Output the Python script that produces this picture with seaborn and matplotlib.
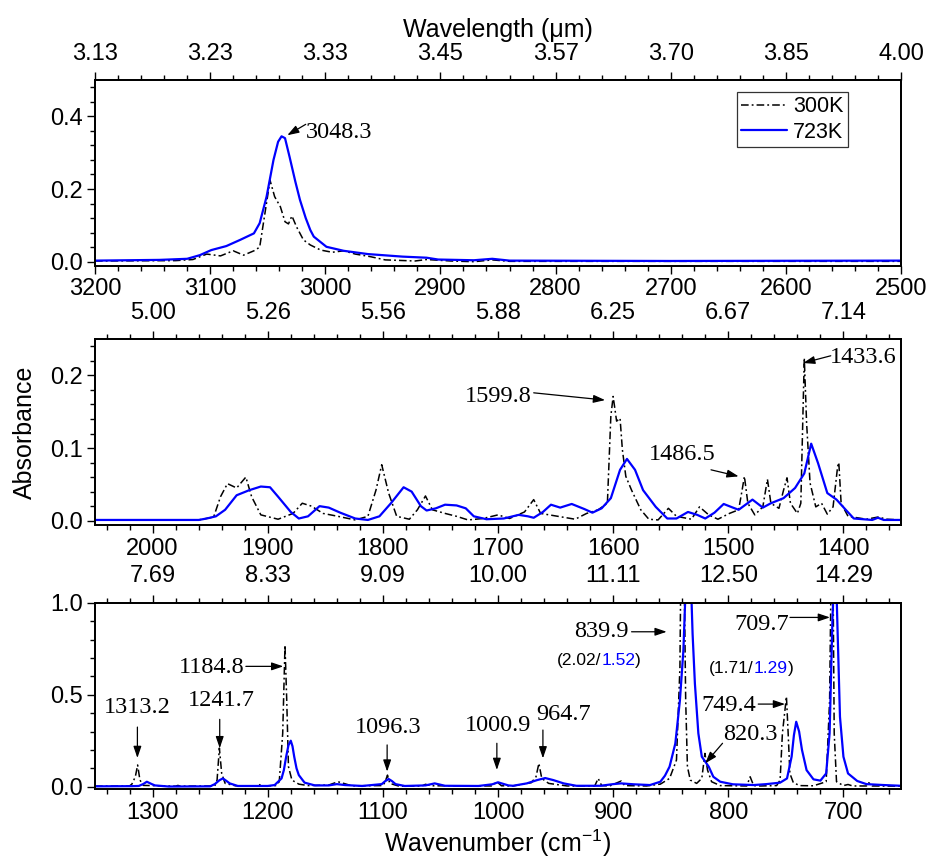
import pandas as pd
import matplotlib
matplotlib.use("Agg")
import matplotlib.pyplot as plt
from matplotlib.ticker import MultipleLocator, FormatStrFormatter
import seaborn as sns

# spectra: (wavenumber cm-1, absorbance)
p1_300K = [(3200, 0.002), (3130, 0.003), (3115, 0.006), (3103, 0.021), (3091, 0.016), (3080, 0.030),
           (3071, 0.018), (3062, 0.030), (3057, 0.040), (3052, 0.142), (3048, 0.224), (3044, 0.179),
           (3039, 0.151), (3035, 0.110), (3032, 0.104), (3029, 0.126), (3025, 0.096), (3019, 0.060),
           (3013, 0.046), (3004, 0.032), (2994, 0.026), (2984, 0.030), (2974, 0.021), (2961, 0.014),
           (2948, 0.005), (2922, 0.002), (2912, 0.006), (2891, 0.002), (2871, 0.000), (2855, 0.005),
           (2840, 0.001), (2500, 0.001)]
p1_723K = [(3200, 0.003), (3144, 0.005), (3120, 0.008), (3109, 0.018), (3099, 0.032), (3086, 0.043),
           (3074, 0.060), (3062, 0.078), (3057, 0.106), (3051, 0.179), (3045, 0.280), (3041, 0.330),
           (3038, 0.345), (3035, 0.340), (3031, 0.288), (3026, 0.220), (3022, 0.170), (3017, 0.120),
           (3013, 0.087), (3010, 0.069), (2999, 0.041), (2984, 0.030), (2963, 0.021), (2933, 0.014),
           (2912, 0.011), (2902, 0.006), (2871, 0.004), (2855, 0.008), (2840, 0.003), (2700, 0.002),
           (2500, 0.003)]

p2_300K = [(2050, 0.001), (1960, 0.001), (1947, 0.005), (1941, 0.033), (1935, 0.051), (1927, 0.045),
           (1919, 0.060), (1914, 0.033), (1906, 0.008), (1891, 0.002), (1878, 0.010), (1870, 0.024),
           (1862, 0.020), (1852, 0.010), (1839, 0.006), (1824, 0.001), (1813, 0.006), (1806, 0.042),
           (1801, 0.077), (1795, 0.038), (1788, 0.006), (1777, 0.002), (1770, 0.015), (1763, 0.034),
           (1757, 0.015), (1746, 0.010), (1736, 0.006), (1726, 0.001), (1713, 0.003), (1700, 0.008),
           (1690, 0.003), (1677, 0.012), (1669, 0.029), (1663, 0.010), (1648, 0.006), (1633, 0.002),
           (1623, 0.010), (1613, 0.015), (1605, 0.024), (1602, 0.144), (1600, 0.171), (1597, 0.137),
           (1594, 0.141), (1592, 0.098), (1589, 0.061), (1584, 0.042), (1576, 0.015), (1569, 0.002),
           (1561, 0.001), (1552, 0.017), (1545, 0.006), (1532, 0.002), (1525, 0.019), (1517, 0.008),
           (1509, 0.002), (1499, 0.010), (1491, 0.015), (1488, 0.042), (1486, 0.061), (1483, 0.024),
           (1477, 0.008), (1470, 0.019), (1466, 0.057), (1463, 0.024), (1456, 0.017), (1452, 0.042),
           (1449, 0.059), (1446, 0.024), (1440, 0.010), (1437, 0.024), (1434, 0.224), (1432, 0.135),
           (1429, 0.052), (1424, 0.019), (1419, 0.024), (1414, 0.009), (1409, 0.019), (1405, 0.075),
           (1404, 0.080), (1402, 0.024), (1396, 0.006), (1380, 0.002), (1370, 0.005), (1362, 0.002),
           (1350, 0.001)]
p2_723K = [(2050, 0.001), (1960, 0.001), (1953, 0.003), (1945, 0.006), (1937, 0.015), (1927, 0.035),
           (1916, 0.042), (1906, 0.047), (1898, 0.046), (1891, 0.033), (1880, 0.012), (1873, 0.003),
           (1865, 0.006), (1855, 0.020), (1847, 0.018), (1837, 0.011), (1824, 0.003), (1813, 0.001),
           (1803, 0.006), (1793, 0.024), (1782, 0.046), (1775, 0.040), (1767, 0.020), (1762, 0.014),
           (1754, 0.017), (1746, 0.022), (1736, 0.021), (1728, 0.017), (1721, 0.006), (1710, 0.002),
           (1695, 0.003), (1682, 0.008), (1674, 0.006), (1669, 0.004), (1661, 0.012), (1654, 0.022),
           (1646, 0.018), (1636, 0.023), (1625, 0.016), (1618, 0.011), (1610, 0.017), (1602, 0.031),
           (1594, 0.070), (1588, 0.085), (1581, 0.070), (1574, 0.042), (1563, 0.019), (1553, 0.003),
           (1545, 0.003), (1535, 0.012), (1527, 0.008), (1520, 0.003), (1512, 0.011), (1504, 0.023),
           (1496, 0.018), (1491, 0.015), (1479, 0.029), (1470, 0.018), (1463, 0.024), (1452, 0.031),
           (1442, 0.045), (1434, 0.065), (1428, 0.106), (1422, 0.079), (1414, 0.038), (1406, 0.029),
           (1398, 0.015), (1391, 0.003), (1375, 0.001), (1370, 0.004), (1365, 0.001), (1350, 0.001)]

p3_300K = [(1350, 0.003), (1320, 0.004), (1318, 0.014), (1315, 0.054), (1313, 0.118), (1311, 0.036),
           (1308, 0.007), (1280, 0.003), (1278, 0.007), (1276, 0.003), (1246, 0.004), (1244, 0.036),
           (1242, 0.210), (1240, 0.072), (1237, 0.018), (1228, 0.005), (1210, 0.004), (1208, 0.013),
           (1205, 0.004), (1193, 0.006), (1190, 0.027), (1187, 0.290), (1185, 0.770), (1183.5, 0.470),
           (1182, 0.109), (1179, 0.036), (1173, 0.014), (1165, 0.006), (1147, 0.009), (1139, 0.027),
           (1134, 0.018), (1127, 0.005), (1100, 0.006), (1098, 0.027), (1096, 0.063), (1094, 0.018),
           (1086, 0.003), (1066, 0.004), (1063, 0.013), (1058, 0.005), (1005, 0.004), (1001, 0.027),
           (997, 0.005), (987, 0.004), (971, 0.022), (967, 0.054), (964.5, 0.127), (962, 0.045),
           (956, 0.018), (940, 0.004), (916, 0.004), (913, 0.045), (910, 0.006), (903, 0.004),
           (893, 0.031), (890, 0.006), (871, 0.004), (859, 0.014), (851, 0.045), (845, 0.145),
           (842, 0.650), (840, 2.020), (837, 0.470), (835.5, 0.109), (833, 0.036), (827.5, 0.018),
           (823, 0.045), (820.3, 0.181), (818, 0.090), (814.5, 0.027), (807, 0.006), (784, 0.004),
           (781, 0.054), (778, 0.006), (772, 0.004), (758, 0.006), (755, 0.036), (753, 0.290),
           (749.5, 0.490), (748, 0.290), (746.5, 0.072), (743.5, 0.022), (738, 0.006), (726, 0.005),
           (715, 0.027), (712, 0.470), (709.7, 1.710), (708, 0.290), (706, 0.027), (700, 0.006),
           (696, 0.012), (692, 0.004), (680, 0.004), (678, 0.022), (675, 0.004), (650, 0.003)]
p3_723K = [(1350, 0.002), (1318, 0.003), (1312, 0.004), (1308, 0.015), (1305, 0.027), (1301, 0.015),
           (1298, 0.007), (1286, 0.001), (1250, 0.002), (1246, 0.014), (1242, 0.035), (1239, 0.045),
           (1236, 0.032), (1233, 0.018), (1226, 0.004), (1200, 0.004), (1194, 0.009), (1188, 0.045),
           (1186, 0.090), (1184, 0.163), (1182, 0.225), (1180, 0.250), (1178.5, 0.220), (1177, 0.163),
           (1175, 0.100), (1173, 0.063), (1168, 0.022), (1159, 0.007), (1147, 0.007), (1140, 0.014),
           (1133, 0.009), (1118, 0.004), (1101, 0.014), (1098, 0.030), (1095, 0.042), (1092, 0.030),
           (1089, 0.014), (1081, 0.004), (1063, 0.007), (1055, 0.018), (1046, 0.005), (1017, 0.004),
           (1005, 0.013), (1000, 0.024), (991, 0.007), (987, 0.005), (975, 0.018), (966, 0.036),
           (959, 0.047), (952, 0.036), (943, 0.018), (932, 0.005), (911, 0.005), (900, 0.014),
           (893, 0.018), (882, 0.013), (868, 0.009), (859, 0.027), (855, 0.060), (851, 0.109),
           (846, 0.235), (842, 0.470), (839, 0.740), (834.5, 1.520), (831, 0.830), (829, 0.560),
           (826, 0.290), (823, 0.163), (820, 0.136), (817, 0.109), (813, 0.054), (807, 0.027),
           (796, 0.013), (778, 0.009), (767, 0.014), (755, 0.022), (749, 0.045), (745, 0.163),
           (743, 0.280), (741, 0.353), (738.5, 0.300), (736, 0.200), (732, 0.090), (726, 0.040),
           (720, 0.033), (715, 0.072), (712, 0.290), (709.5, 0.920), (707, 1.290), (705, 0.830),
           (703, 0.380), (700, 0.163), (696, 0.072), (688, 0.031), (680, 0.014), (665, 0.009),
           (650, 0.005)]

bottom_ticks = [[3200, 3100, 3000, 2900, 2800, 2700, 2600, 2500],
                [2000, 1900, 1800, 1700, 1600, 1500, 1400],
                [1300, 1200, 1100, 1000, 900, 800, 700]]
top_labels = [["3.13", "3.23", "3.33", "3.45", "3.57", "3.70", "3.85", "4.00"],
              ["5.00", "5.26", "5.56", "5.88", "6.25", "6.67", "7.14"],
              ["7.69", "8.33", "9.09", "10.00", "11.11", "12.50", "14.29"]]

BLUE = "#0000ff"
sns.set_style("ticks")
plt.rcParams["font.family"] = ["Liberation Sans", "DejaVu Sans"]
plt.rcParams["mathtext.default"] = "regular"
for key in ["text.color", "axes.labelcolor", "xtick.color", "ytick.color", "axes.edgecolor"]:
    plt.rcParams[key] = "k"

fig = plt.figure(figsize=(9.28, 8.61), dpi=100)
boxes = [[0.1024, 0.6914, 0.8685, 0.2157],
         [0.1024, 0.3902, 0.8685, 0.2160],
         [0.1024, 0.0833, 0.8685, 0.2167]]
xlims = [(3200, 2500), (2050, 1350), (1350, 650)]
ylims = [(-0.011, 0.5), (-0.006, 0.25), (-0.014, 1.0)]
ysteps = [(0.2, 0.04), (0.1, 0.02), (0.5, 0.1)]
series = [(p1_300K, p1_723K), (p2_300K, p2_723K), (p3_300K, p3_723K)]
TICK_FS = 17

axes = []
for i in range(3):
    ax = fig.add_axes(boxes[i])
    d300 = pd.DataFrame(series[i][0], columns=["wn", "A"])
    d723 = pd.DataFrame(series[i][1], columns=["wn", "A"])
    sns.lineplot(data=d300, x="wn", y="A", ax=ax, color="k", lw=1.1, estimator=None,
                 sort=False, label="300K")
    ax.lines[-1].set_dashes((5, 2, 1.2, 2))
    sns.lineplot(data=d723, x="wn", y="A", ax=ax, color=BLUE, lw=1.6, estimator=None,
                 sort=False, label="723K")
    ax.set_xlim(*xlims[i])
    ax.set_ylim(*ylims[i])
    ax.set_xlabel("")
    ax.set_ylabel("")
    ax.set_xticks(bottom_ticks[i])
    ax.xaxis.set_minor_locator(MultipleLocator(20))
    ax.yaxis.set_major_locator(MultipleLocator(ysteps[i][0]))
    ax.yaxis.set_minor_locator(MultipleLocator(ysteps[i][1]))
    ax.yaxis.set_major_formatter(FormatStrFormatter("%.1f"))
    ax.tick_params(which="both", direction="out", right=False, top=False, width=1.0,
                   labelsize=TICK_FS)
    ax.tick_params(which="major", length=6)
    ax.tick_params(which="minor", length=3.5)
    ax.tick_params(axis="x", pad=3)
    ax.tick_params(axis="y", pad=3)
    for s in ax.spines.values():
        s.set_visible(True)
        s.set_linewidth(1.3)
        s.set_color("k")
    top = ax.twiny()
    top.set_xlim(*xlims[i])
    top.set_xticks(bottom_ticks[i])
    top.set_xticklabels(top_labels[i])
    top.xaxis.set_minor_locator(MultipleLocator(20))
    top.tick_params(which="both", direction="out", width=1.0, labelsize=TICK_FS, pad=5)
    top.tick_params(which="major", length=6)
    top.tick_params(which="minor", length=3.5)
    for s in top.spines.values():
        s.set_linewidth(1.3)
    if i == 0:
        top.set_xlabel("Wavelength (\u03bcm)", fontsize=18, labelpad=4)
        leg = ax.legend(loc="upper right", bbox_to_anchor=(0.934, 0.935), borderaxespad=0,
                        fontsize=15.5, frameon=True, fancybox=False, edgecolor="k",
                        handlelength=2.1, borderpad=0.2, labelspacing=0.2, handletextpad=0.3)
        leg.get_frame().set_linewidth(0.9)
    else:
        ax.get_legend().remove()
    axes.append(ax)

axes[2].set_xlabel("Wavenumber (cm$^{-1}$)", fontsize=18, labelpad=3)
fig.text(0.0264, 0.498, "Absorbance", rotation=90, fontsize=18, ha="center", va="center")

serif = ["Liberation Serif", "DejaVu Serif"]
arrow = dict(arrowstyle="-|>,head_length=0.5,head_width=0.17", color="k", lw=0.9,
             shrinkA=0, shrinkB=0, mutation_scale=14)

# (axis, label, text x, text y, arrow tail, arrow tip)
notes = [
    (0, "3048.3", 2988, 0.355, (3017, 0.378), (3033, 0.348)),
    (1, "1599.8", 1700, 0.1715, (1669, 0.176), (1607, 0.166)),
    (1, "1486.5", 1540, 0.091, (1515, 0.070), (1491, 0.061)),
    (1, "1433.6", 1383, 0.225, (1411, 0.227), (1435, 0.217)),
    (2, "1313.2", 1313, 0.43, (1313.2, 0.324), (1313.2, 0.156)),
    (2, "1241.7", 1240, 0.466, (1241.7, 0.366), (1241.7, 0.209)),
    (2, "1184.8", 1248.6, 0.65, (1219, 0.654), (1186.5, 0.654)),
    (2, "1096.3", 1095, 0.32, (1096.3, 0.227), (1096.3, 0.082)),
    (2, "1000.9", 1000, 0.335, (1001, 0.236), (1001, 0.091)),
    (2, "964.7", 942.6, 0.395, (961, 0.308), (961, 0.154)),
    (2, "839.9", 910, 0.842, (884, 0.842), (853.5, 0.842)),
    (2, "709.7", 771, 0.884, (746.4, 0.92), (711.7, 0.92)),
    (2, "749.4", 800, 0.444, (774, 0.449), (750.7, 0.449)),
    (2, "820.3", 781, 0.286, (805, 0.236), (820, 0.127)),
]
for k, txt, tx, ty, tail, tip in notes:
    ax = axes[k]
    ax.text(tx, ty, txt, family=serif, fontsize=17.5, ha="center", va="center")
    ax.annotate("", xy=tip, xytext=tail, arrowprops=arrow)

# off-scale peak heights (300K / 723K)
ratios = [("2.02", "1.52", 949, 0.686), ("1.71", "1.29", 816.5, 0.64)]
for a, b, x0, y0 in ratios:
    t1 = axes[2].text(x0, y0, "(" + a + "/", fontsize=12.5, ha="left", va="center")
    t2 = axes[2].annotate(b, xy=(1, 0), xycoords=t1, va="bottom", ha="left",
                          fontsize=12.5, color=BLUE)
    axes[2].annotate(")", xy=(1, 0), xycoords=t2, va="bottom", ha="left", fontsize=12.5)

fig.savefig("out.png", dpi=100)
